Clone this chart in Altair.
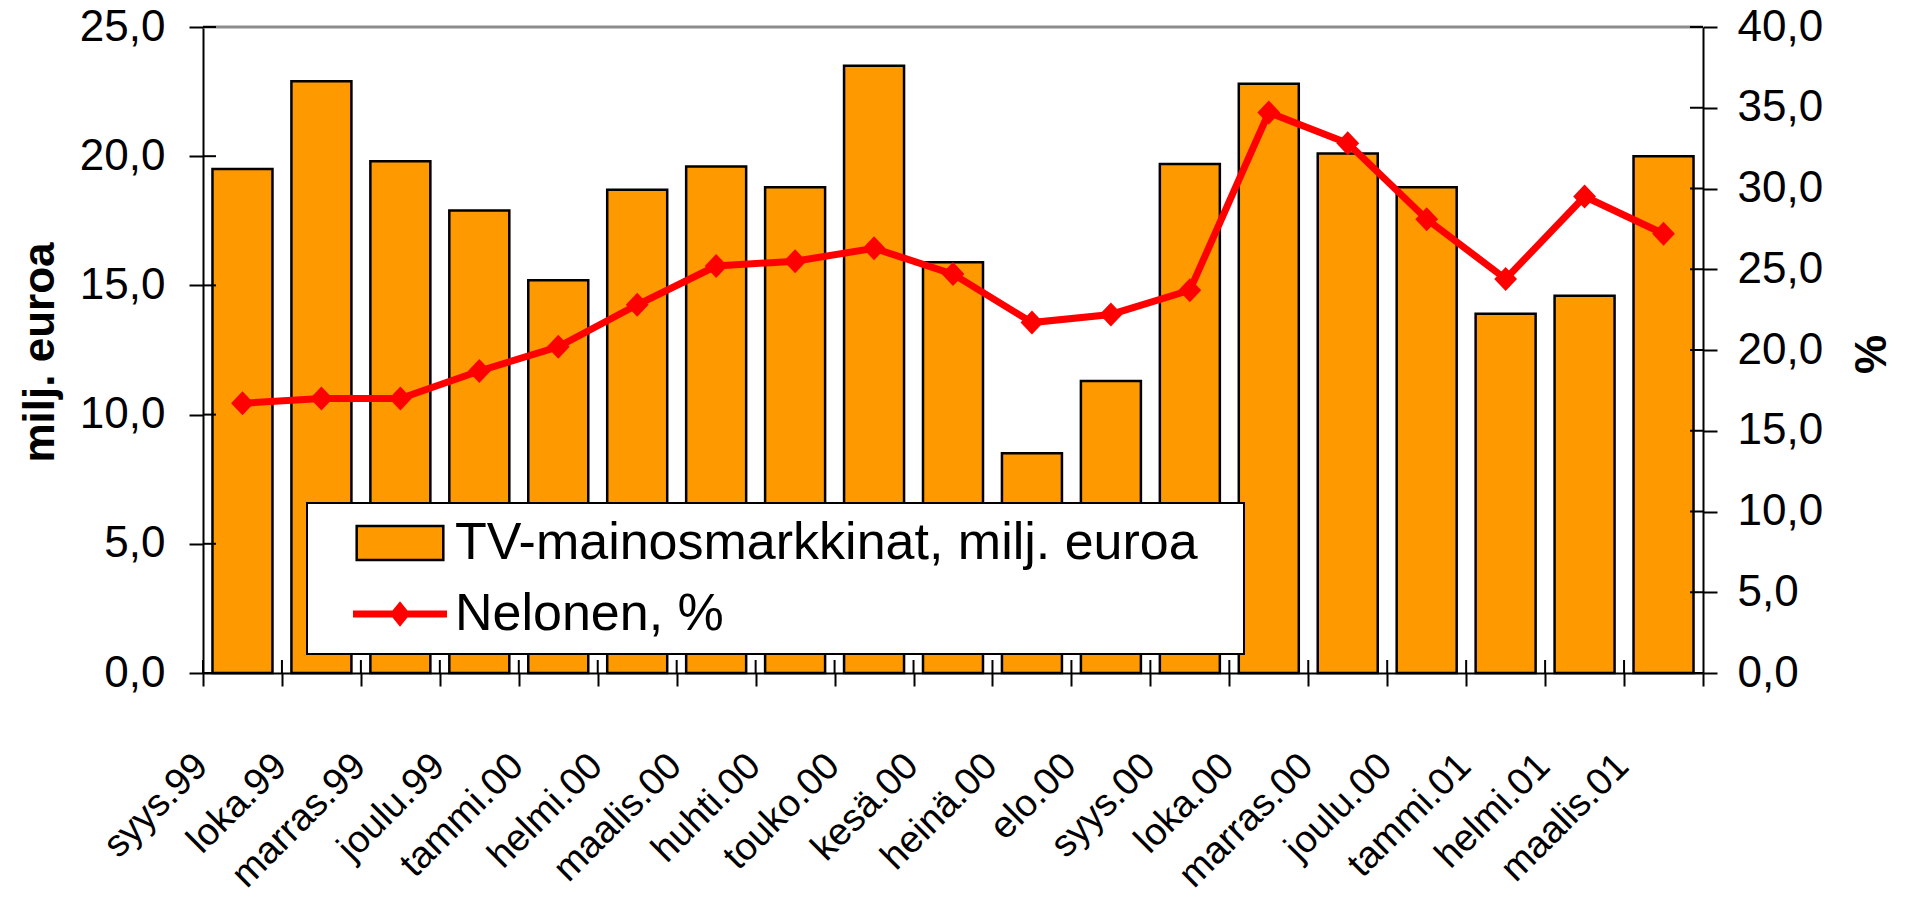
import altair as alt
import pandas as pd

# ---------------- data ----------------
months = ["syys.99", "loka.99", "marras.99", "joulu.99", "tammi.00", "helmi.00",
          "maalis.00", "huhti.00", "touko.00", "kesä.00", "heinä.00", "elo.00",
          "syys.00", "loka.00", "marras.00", "joulu.00", "tammi.01", "helmi.01",
          "maalis.01"]
tv_market = [19.5, 22.9, 19.8, 17.9, 15.2, 18.7, 19.6, 18.8, 23.5, 15.9,
             8.5, 11.3, 19.7, 22.8, 20.1, 18.8, 13.9, 14.6, 20.0]
nelonen_pct = [16.7, 17.0, 17.0, 18.7, 20.2, 22.8, 25.2, 25.5, 26.3, 24.7,
               21.7, 22.2, 23.7, 34.7, 32.8, 28.1, 24.4, 29.5, 27.2]
left_ticks = [0, 5, 10, 15, 20, 25]
right_ticks = [0, 5, 10, 15, 20, 25, 30, 35, 40]
TV_LABEL = "TV-mainosmarkkinat, milj. euroa"
NEL_LABEL = "Nelonen, %"

df = pd.DataFrame({"month": months, "tv": tv_market, "pct": nelonen_pct,
                   "series": TV_LABEL})
left_df = pd.DataFrame({"v": left_ticks})
right_df = pd.DataFrame({"p": right_ticks})
top_df = pd.DataFrame({"top": [left_ticks[-1]]})
month_df = pd.DataFrame({"month": months})

FONT = "Liberation Sans"
W, H = 1500, 646
ORANGE = "#FF9900"
RED = "#FF0000"
DIAMOND = "M0,-1L0.95,0L0,1L-0.95,0Z"
# legend symbols (unit = 24.75 px)
RECT_SYM = "M-1.75,-0.687L1.75,-0.687L1.75,0.687L-1.75,0.687Z"
LINE_SYM = ("M-1.848,-0.091L-0.28,-0.091L0,-0.434L0.28,-0.091L1.848,-0.091"
            "L1.848,0.091L0.28,0.091L0,0.434L-0.28,0.091L-1.848,0.091Z")
COMMA = "replace(format(datum.value, '.1f'), '.', ',')"

x_scale = alt.Scale(domain=months, paddingInner=0, paddingOuter=0)
x_axis = alt.Axis(labelAngle=315, labelAlign="right", labelBaseline="middle",
                  labelFontSize=38, labelFont=FONT, labelColor="black",
                  labelOffset=-41, labelPadding=74, labelLimit=400,
                  labelOverlap=False, tickSize=13, tickWidth=2,
                  tickColor="black", tickBand="extent", domainColor="black",
                  domainWidth=2, grid=False)
x_enc = alt.X("month:N", sort=months, title=None, scale=x_scale, axis=x_axis)

left_axis = alt.Axis(orient="left", values=left_ticks, labelExpr=COMMA,
                     labelFontSize=44, labelFont=FONT, labelColor="black",
                     labelPadding=24, labelFlush=False, tickSize=14, tickWidth=2,
                     tickColor="black", domainColor="black", domainWidth=2,
                     grid=False, title="milj. euroa", titleFont=FONT,
                     titleFontSize=44, titleFontWeight="bold", titleColor="black",
                     titleAngle=270, titleAlign="center",
                     titleBaseline="alphabetic", titleX=-150, titleY=325)

right_axis = alt.Axis(orient="right", values=right_ticks, labelExpr=COMMA,
                      labelFontSize=44, labelFont=FONT, labelColor="black",
                      labelPadding=20, labelFlush=False, tickSize=14, tickWidth=2,
                      tickColor="black", domainColor="black", domainWidth=2,
                      grid=False, title="%", titleFont=FONT, titleFontSize=44,
                      titleFontWeight="bold", titleColor="black", titleAngle=270,
                      titleAlign="center", titleBaseline="alphabetic",
                      titleX=182, titleY=327)

legend = alt.Legend(
    orient="none", legendX=104, legendY=476, padding=14,
    title="\u2800", titleOrient="right", titleFontSize=2, titleColor="white",
    titlePadding=31,
    rowPadding=19, fillColor="white", strokeColor="black",
    labelFont=FONT, labelFontSize=52, labelColor="black", labelOffset=29,
    labelLimit=2000,
    symbolSize=2450, symbolStrokeWidth=2.5, symbolOffset=53,
    symbolType=alt.ExprRef(expr=f"datum.index == 1 ? '{LINE_SYM}' : '{RECT_SYM}'"),
    symbolStrokeColor=alt.ExprRef(expr=f"datum.index == 1 ? '{RED}' : 'black'"),
)

bars = alt.Chart(df).mark_bar(stroke="black", strokeWidth=2.5,
                              width=alt.RelativeBandSize(0.76)).encode(
    x=x_enc,
    y=alt.Y("tv:Q", scale=alt.Scale(domain=[0, 25], nice=False), axis=left_axis),
    fill=alt.Fill("series:N",
                  scale=alt.Scale(domain=[TV_LABEL, NEL_LABEL], range=[ORANGE, RED]),
                  legend=legend),
)
top_rule = alt.Chart(top_df).mark_rule(color="#8c8c8c", strokeWidth=3).encode(
    y=alt.Y("top:Q", scale=alt.Scale(domain=[0, 25], nice=False), axis=None)
)
left_inner = alt.Chart(left_df).mark_rule(color="black", strokeWidth=2).encode(
    y=alt.Y("v:Q", scale=alt.Scale(domain=[0, 25], nice=False), axis=None),
    x=alt.value(0), x2=alt.value(13),
)
x_inner = alt.Chart(month_df).mark_rule(color="black", strokeWidth=2).encode(
    x=alt.X("month:N", sort=months, scale=x_scale, axis=x_axis, bandPosition=0),
    y=alt.value(H - 13), y2=alt.value(H),
)

line = alt.Chart(df).mark_line(
    color=RED, strokeWidth=7,
    point=alt.OverlayMarkDef(shape=DIAMOND, size=576, filled=True, color=RED, opacity=1),
).encode(
    x=x_enc,
    y=alt.Y("pct:Q", scale=alt.Scale(domain=[0, 40], nice=False), axis=right_axis),
)
right_inner = alt.Chart(right_df).mark_rule(color="black", strokeWidth=2).encode(
    y=alt.Y("p:Q", scale=alt.Scale(domain=[0, 40], nice=False), axis=None),
    x=alt.value(W - 13), x2=alt.value(W),
)

chart = alt.layer(
    bars, top_rule, left_inner, x_inner, line, right_inner
).resolve_scale(y="independent").properties(
    width=W, height=H,
    autosize=alt.AutoSizeParams(type="none"),
    padding={"left": 195, "top": 19, "right": 185, "bottom": 219},
).configure_view(stroke=None).configure_legend(strokeWidth=2)

chart.save("out.html", embed_options={"renderer": "svg", "actions": False})
